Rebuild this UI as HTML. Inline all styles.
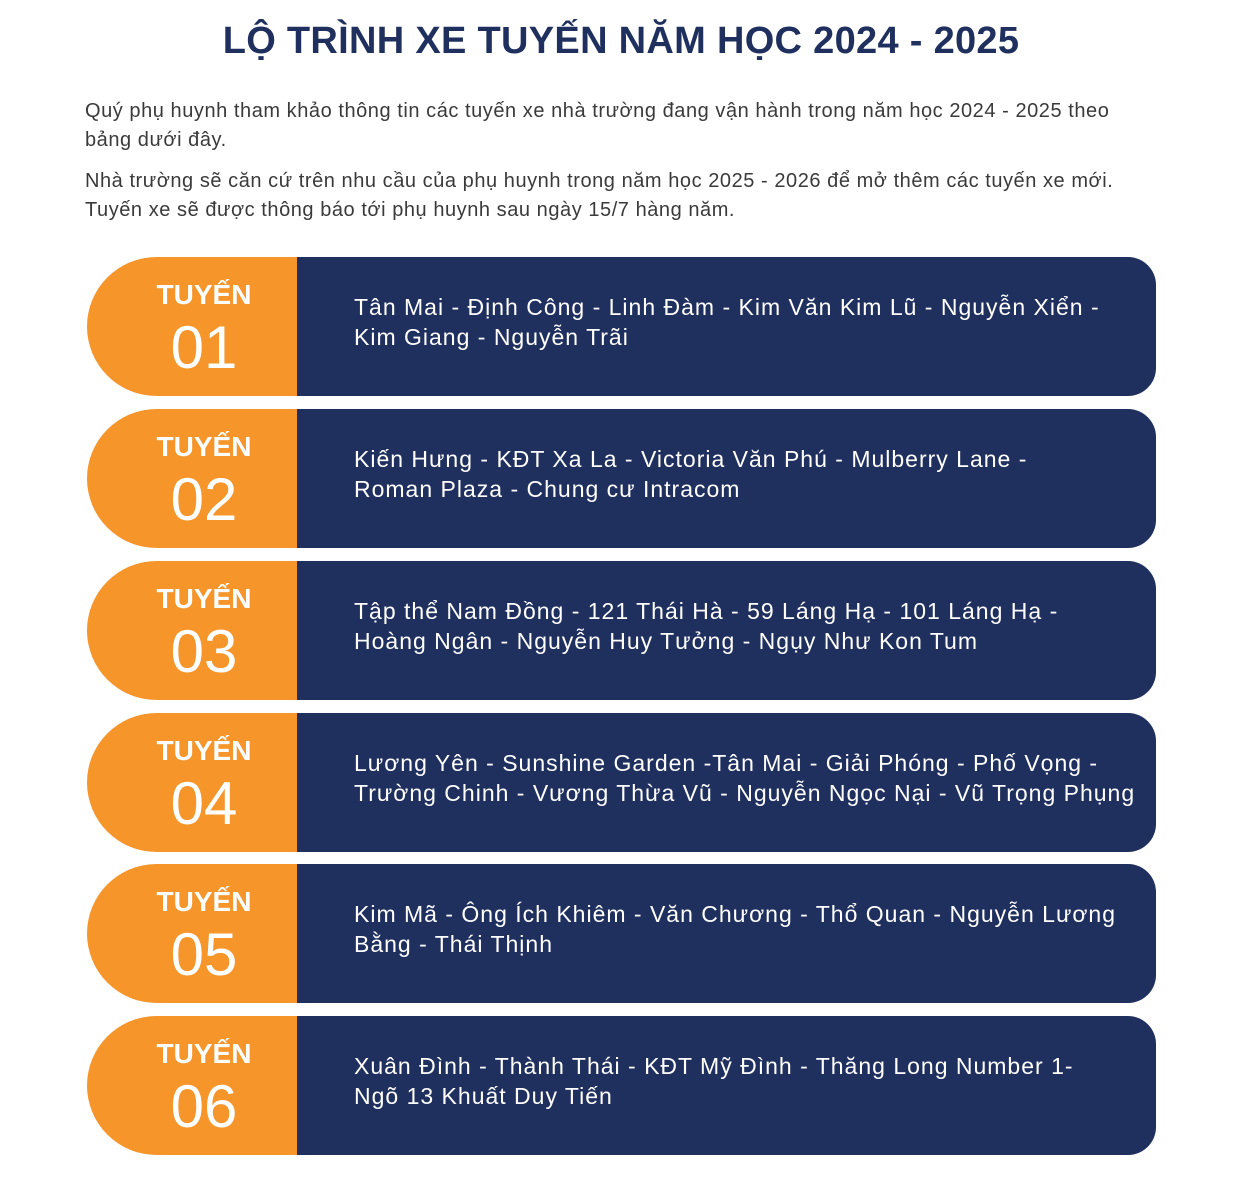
<!DOCTYPE html>
<html lang="vi">
<head>
<meta charset="utf-8">
<style>
  html,body{margin:0;padding:0;background:#fff;}
  body{width:1242px;height:1186px;position:relative;overflow:hidden;font-family:"Liberation Sans","DejaVu Sans",sans-serif;}
  h1{position:absolute;left:0;width:1242px;top:20px;margin:0;text-align:center;font-size:38px;font-weight:bold;color:#1f2f5e;letter-spacing:0.3px;}
  .p{position:absolute;left:85px;width:1150px;margin:0;font-size:20px;line-height:29px;color:#3a3a3a;letter-spacing:0.55px;white-space:nowrap;}
  .card{position:absolute;left:87px;width:1069px;height:139px;}
  .badge{position:absolute;left:0;top:0;width:210px;height:139px;background:#f5952a;border-radius:70px 0 0 70px;color:#fff;text-align:center;}
  .badge .t{position:absolute;left:20px;width:194px;top:22px;font-size:28px;font-weight:bold;}
  .badge .n{position:absolute;left:20px;width:194px;top:56px;font-size:60px;line-height:70px;}
  .route{position:absolute;left:210px;top:0;width:859px;height:139px;background:#1f2f5e;border-radius:0 28px 28px 0;display:flex;align-items:center;}
  .route span{display:block;margin-left:57px;margin-bottom:10px;width:800px;color:#fff;font-size:23px;line-height:30px;letter-spacing:1px;white-space:nowrap;}
</style>
</head>
<body>
<h1>LỘ TRÌNH XE TUYẾN NĂM HỌC 2024 - 2025</h1>
<p class="p" style="top:97px">Quý phụ huynh tham khảo thông tin các tuyến xe nhà trường đang vận hành trong năm học 2024 - 2025 theo<br>bảng dưới đây.</p>
<p class="p" style="top:167px">Nhà trường sẽ căn cứ trên nhu cầu của phụ huynh trong năm học 2025 - 2026 để mở thêm các tuyến xe mới.<br>Tuyến xe sẽ được thông báo tới phụ huynh sau ngày 15/7 hàng năm.</p>

<div class="card" style="top:257px">
  <div class="badge"><div class="t">TUYẾN</div><div class="n">01</div></div>
  <div class="route"><span>Tân Mai - Định Công - Linh Đàm - Kim Văn Kim Lũ - Nguyễn Xiển -<br>Kim Giang - Nguyễn Trãi</span></div>
</div>
<div class="card" style="top:409px">
  <div class="badge"><div class="t">TUYẾN</div><div class="n">02</div></div>
  <div class="route"><span>Kiến Hưng - KĐT Xa La - Victoria Văn Phú - Mulberry Lane -<br>Roman Plaza - Chung cư Intracom</span></div>
</div>
<div class="card" style="top:561px">
  <div class="badge"><div class="t">TUYẾN</div><div class="n">03</div></div>
  <div class="route"><span>Tập thể Nam Đồng - 121 Thái Hà - 59 Láng Hạ - 101 Láng Hạ -<br>Hoàng Ngân - Nguyễn Huy Tưởng - Ngụy Như Kon Tum</span></div>
</div>
<div class="card" style="top:713px">
  <div class="badge"><div class="t">TUYẾN</div><div class="n">04</div></div>
  <div class="route"><span>Lương Yên - Sunshine Garden -Tân Mai - Giải Phóng - Phố Vọng -<br>Trường Chinh - Vương Thừa Vũ - Nguyễn Ngọc Nại - Vũ Trọng Phụng</span></div>
</div>
<div class="card" style="top:864px">
  <div class="badge"><div class="t">TUYẾN</div><div class="n">05</div></div>
  <div class="route"><span>Kim Mã - Ông Ích Khiêm - Văn Chương - Thổ Quan - Nguyễn Lương<br>Bằng - Thái Thịnh</span></div>
</div>
<div class="card" style="top:1016px">
  <div class="badge"><div class="t">TUYẾN</div><div class="n">06</div></div>
  <div class="route"><span>Xuân Đình - Thành Thái - KĐT Mỹ Đình - Thăng Long Number 1-<br>Ngõ 13 Khuất Duy Tiến</span></div>
</div>
</body>
</html>
